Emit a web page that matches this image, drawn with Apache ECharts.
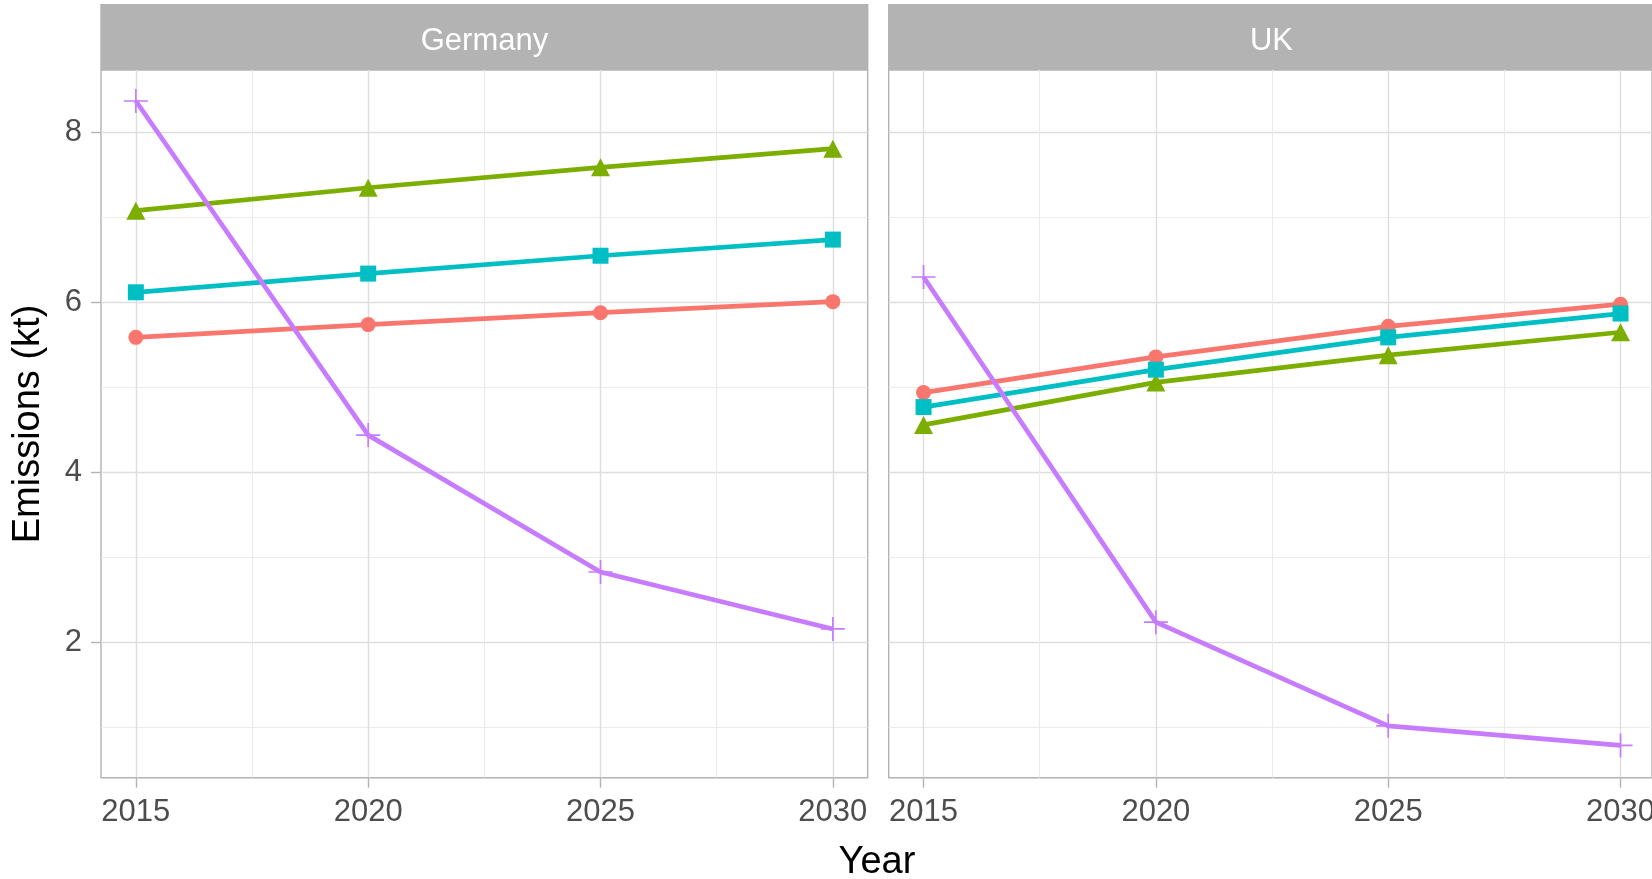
<!DOCTYPE html>
<html>
<head>
<meta charset="utf-8">
<title>Emissions by country</title>
<script src="https://cdn.jsdelivr.net/npm/echarts@6/dist/echarts.min.js"></script>
<style>
  html, body { margin: 0; padding: 0; background: #ffffff; }
  #chart { width: 1652px; height: 879px; }
</style>
</head>
<body>
<div id="chart"></div>
<script>
// Dados
const years = [2015, 2020, 2025, 2030];
const majorYears = [2015, 2020, 2025, 2030];
const minorYears = [2017.5, 2022.5, 2027.5];
const majorY = [2, 4, 6, 8];
const minorY = [1, 3, 5, 7];

const germanyRed = [5.59, 5.74, 5.88, 6.01];
const germanyGreen = [7.08, 7.35, 7.59, 7.81];
const germanyCyan = [6.12, 6.34, 6.55, 6.74];
const germanyPurple = [8.37, 4.44, 2.83, 2.16];

const ukRed = [4.94, 5.36, 5.72, 5.98];
const ukGreen = [4.56, 5.06, 5.38, 5.65];
const ukCyan = [4.77, 5.21, 5.59, 5.87];
const ukPurple = [6.30, 2.24, 1.02, 0.79];

const colors = { red: '#F8766D', green: '#7CAE00', cyan: '#00BFC4', purple: '#C77CFF' };
const font = '"Liberation Sans", Arial, sans-serif';
const crossPath = 'path://M-0.7,-10H0.7V10H-0.7Z M-10,-0.7H10V0.7H-10Z';

const chart = echarts.init(document.getElementById('chart'), null, { renderer: 'canvas' });

const pairs = (vals) => years.map((y, i) => [y, vals[i]]);

const xAxisMajor = (gridIndex, max) => ({
  type: 'value',
  gridIndex,
  min: 2014.25,
  max,
  axisLine: { show: false },
  axisTick: {
    show: true, length: 10, customValues: majorYears,
    lineStyle: { color: '#B3B3B3', width: 1.4 },
  },
  axisLabel: {
    customValues: majorYears, color: '#4D4D4D', fontSize: 31,
    fontFamily: font, margin: 19, formatter: (v) => String(v),
  },
  splitLine: { show: true, lineStyle: { color: '#DEDEDE', width: 1.4 } },
});

const xAxisMinor = (gridIndex, max) => ({
  type: 'value',
  gridIndex,
  position: 'top',
  min: 2014.25,
  max,
  axisLine: { show: false },
  axisTick: { show: false, customValues: minorYears },
  axisLabel: { show: false },
  splitLine: { show: true, lineStyle: { color: '#EBEBEB', width: 1 } },
});

const yAxisMajor = (gridIndex, showLabels) => ({
  type: 'value',
  gridIndex,
  min: 0.41,
  max: 8.735,
  axisLine: { show: false },
  axisTick: {
    show: showLabels, length: 10, customValues: majorY,
    lineStyle: { color: '#B3B3B3', width: 1.4 },
  },
  axisLabel: {
    show: showLabels, customValues: majorY, color: '#4D4D4D',
    fontSize: 31, fontFamily: font, margin: 19,
  },
  splitLine: { show: true, lineStyle: { color: '#DEDEDE', width: 1.4 } },
});

const yAxisMinor = (gridIndex) => ({
  type: 'value',
  gridIndex,
  position: 'right',
  min: 0.41,
  max: 8.735,
  axisLine: { show: false },
  axisTick: { show: false, customValues: minorY },
  axisLabel: { show: false },
  splitLine: { show: true, lineStyle: { color: '#EBEBEB', width: 1 } },
});

const lineSeries = (name, data, color, symbol, size, axisIndex) => ({
  name,
  type: 'line',
  xAxisIndex: axisIndex,
  yAxisIndex: axisIndex,
  data: pairs(data),
  symbol,
  symbolSize: size,
  showSymbol: true,
  lineStyle: { color, width: 4.7 },
  itemStyle: { color, opacity: 1 },
  emphasis: { disabled: true },
  z: 3,
});

const panelSeries = (red, green, cyan, purple, axisIndex) => [
  lineSeries('A', red, colors.red, 'circle', 15, axisIndex),
  lineSeries('B', green, colors.green, 'triangle', [19, 18], axisIndex),
  lineSeries('C', cyan, colors.cyan, 'rect', 16, axisIndex),
  lineSeries('D', purple, colors.purple, crossPath, 24, axisIndex),
];

// o painel UK é cortado na borda direita da imagem
const ukMax = 2014.25 + (1652 - 888.7) / (766.7 / 16.5);

const gridBase = {
  top: 70, height: 707.7, show: true, outerBoundsMode: 'none',
  borderColor: '#B3B3B3', borderWidth: 1.4, backgroundColor: '#ffffff',
};

chart.setOption({
  animation: false,
  backgroundColor: '#ffffff',
  grid: [
    { ...gridBase, left: 101, width: 766.7 },
    { ...gridBase, left: 888.7, width: 1652 - 888.7 },
  ],
  xAxis: [xAxisMajor(0, 2030.75), xAxisMinor(0, 2030.75), xAxisMajor(1, ukMax), xAxisMinor(1, ukMax)],
  yAxis: [yAxisMajor(0, true), yAxisMinor(0), yAxisMajor(1, false), yAxisMinor(1)],
  series: [
    ...panelSeries(germanyRed, germanyGreen, germanyCyan, germanyPurple, 0),
    ...panelSeries(ukRed, ukGreen, ukCyan, ukPurple, 2),
  ],
  graphic: [
    // faixas dos painéis
    { type: 'rect', shape: { x: 100.3, y: 4, width: 768.1, height: 66 }, style: { fill: '#B3B3B3' } },
    { type: 'rect', shape: { x: 888, y: 4, width: 770, height: 66 }, style: { fill: '#B3B3B3' } },
    { type: 'text', x: 484.5, y: 41, style: { text: 'Germany', fill: '#ffffff', font: '31px ' + font, align: 'center', verticalAlign: 'middle' } },
    { type: 'text', x: 1271.5, y: 41, style: { text: 'UK', fill: '#ffffff', font: '31px ' + font, align: 'center', verticalAlign: 'middle' } },
    // títulos dos eixos
    { type: 'text', x: 877, y: 863, style: { text: 'Year', fill: '#000000', font: '38px ' + font, align: 'center', verticalAlign: 'middle' } },
    { type: 'text', x: 29, y: 424, rotation: Math.PI / 2, style: { text: 'Emissions (kt)', fill: '#000000', font: '38px ' + font, align: 'center', verticalAlign: 'middle' } },
  ],
});
</script>
</body>
</html>
